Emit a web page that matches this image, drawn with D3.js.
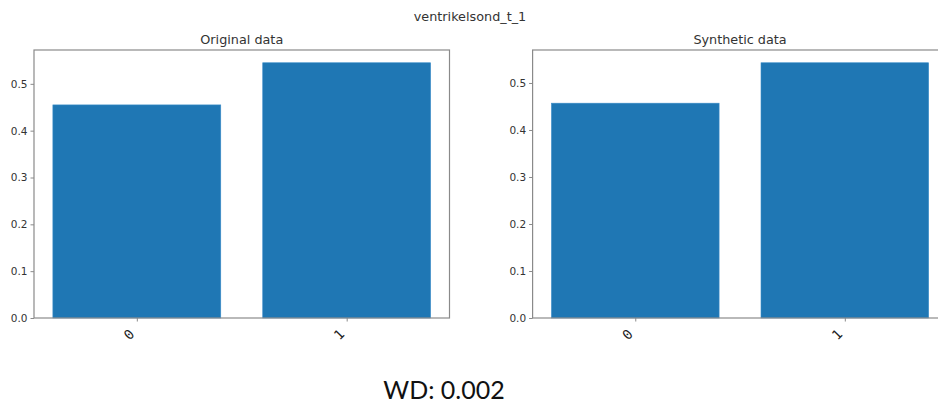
<!DOCTYPE html>
<html>
<head>
<meta charset="utf-8">
<script src="https://cdn.jsdelivr.net/npm/d3@7"></script>
<style>
  body { margin: 0; background: #fff; }
  svg { display: block; }
</style>
</head>
<body>
<svg id="chart" width="938" height="403"></svg>
<script>
// Class proportions for the binary column, real vs generated
const categories = ["0", "1"];
const originalValues = [0.455, 0.545];
const syntheticValues = [0.457, 0.543];
const yTickValues = [0.0, 0.1, 0.2, 0.3, 0.4, 0.5];
const figureTitle = "ventrikelsond_t_1";
const panelTitles = ["Original data", "Synthetic data"];
const footerText = "WD: 0.002";

const svg = d3.select("#chart");
const barColor = "#1f77b4";
const frameColor = "#8a8a8a";
const textColor = "#333";

svg.append("text")
  .attr("x", 470).attr("y", 21)
  .attr("text-anchor", "middle")
  .attr("font-family", "DejaVu Sans, sans-serif")
  .attr("font-size", 12.8)
  .attr("fill", textColor)
  .text(figureTitle);

function drawPanel(left, right, top, bottom, values, title) {
  const g = svg.append("g");
  const idx = categories.map((d, i) => i);
  // numeric x with matplotlib-like margins around 0.8-wide bars
  const xMin = -0.4, xMax = categories.length - 1 + 0.4;
  const pad = (xMax - xMin) * 0.05;
  const x = d3.scaleLinear().domain([xMin - pad, xMax + pad]).range([left, right]);
  const y = d3.scaleLinear().domain([0, d3.max(values) * 1.05]).range([bottom, top]);

  g.selectAll("rect.bar").data(values).join("rect")
    .attr("class", "bar")
    .attr("x", (d, i) => x(i - 0.4))
    .attr("width", (d, i) => x(i + 0.4) - x(i - 0.4))
    .attr("y", d => y(d))
    .attr("height", d => y(0) - y(d))
    .attr("fill", barColor)
    .attr("stroke", "#3a8cc8")
    .attr("stroke-width", 0.6);

  // frame
  g.append("rect")
    .attr("x", left).attr("y", top)
    .attr("width", right - left).attr("height", bottom - top)
    .attr("fill", "none")
    .attr("stroke", frameColor)
    .attr("stroke-width", 1.2);

  const yAxis = g.append("g")
    .attr("transform", `translate(${left},0)`)
    .call(d3.axisLeft(y).tickValues(yTickValues).tickFormat(d3.format(".1f")).tickSize(3.5).tickPadding(3));
  yAxis.select(".domain").remove();
  yAxis.selectAll("line").attr("stroke", frameColor);
  yAxis.selectAll("text")
    .attr("font-family", "DejaVu Sans, sans-serif")
    .attr("font-size", 10.5)
    .attr("fill", textColor);

  const xAxis = g.append("g")
    .attr("transform", `translate(0,${bottom})`)
    .call(d3.axisBottom(x).tickValues(idx).tickFormat(i => categories[i]).tickSize(3.5).tickPadding(3));
  xAxis.select(".domain").remove();
  xAxis.selectAll("line").attr("stroke", frameColor);
  xAxis.selectAll("text")
    .attr("font-family", "DejaVu Sans Mono, monospace")
    .attr("font-size", 13.5)
    .attr("fill", "#222")
    .attr("text-anchor", "end")
    .attr("dy", null)
    .attr("y", 0)
    .attr("transform", "translate(-2,17) rotate(-45)");

  g.append("text")
    .attr("x", (left + right) / 2).attr("y", top - 6)
    .attr("text-anchor", "middle")
    .attr("font-family", "DejaVu Sans, sans-serif")
    .attr("font-size", 12.8)
    .attr("fill", textColor)
    .text(title);
}

drawPanel(34, 449.5, 50, 318, originalValues, panelTitles[0]);
drawPanel(532.6, 947.5, 50, 318, syntheticValues, panelTitles[1]);

svg.append("text")
  .attr("x", 444).attr("y", 399)
  .attr("text-anchor", "middle")
  .attr("font-family", "Lato, Carlito, sans-serif")
  .attr("font-size", 25)
  .attr("fill", "#111")
  .text(footerText);
</script>
</body>
</html>
